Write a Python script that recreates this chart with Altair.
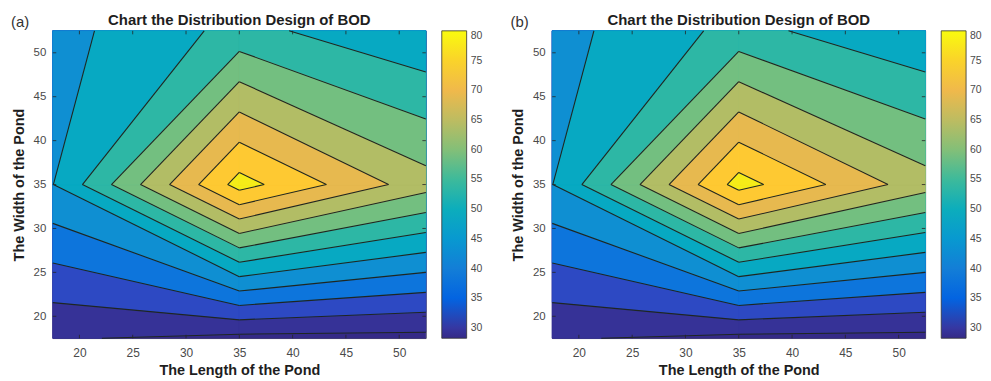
import math
import altair as alt
import pandas as pd

# ---------------- data ----------------
x_grid = [17.5, 35.0, 52.5]          # length of the pond (grid columns)
y_grid = [17.5, 35.0, 52.5]          # width of the pond (grid rows)
z_row_y17 = [25.5, 23.6, 23.5]       # BOD at width 17.5
z_row_y35 = [44.9, 77.0, 62.0]       # BOD at width 35
z_row_y52 = [43.1, 51.6, 45.6]       # BOD at width 52.5
contour_levels = [25, 30, 35, 40, 45, 50, 55, 60, 65, 70, 75]
axis_ticks = [20, 25, 30, 35, 40, 45, 50]
colorbar_ticks = [30, 35, 40, 45, 50, 55, 60, 65, 70, 75, 80]
colorbar_limits = [28.3, 80.0]
panel_labels = ["(a)", "(b)"]
chart_title = "Chart the Distribution Design of BOD"
x_title = "The Length of the Pond"
y_title = "The Width of the Pond"

# ---------------- styles ----------------
PARULA = [
    (0.2081, 0.1663, 0.5292), (0.2116, 0.1898, 0.5777), (0.2123, 0.2138, 0.6270), (0.2081, 0.2386, 0.6771),
    (0.1959, 0.2645, 0.7279), (0.1707, 0.2919, 0.7792), (0.1253, 0.3242, 0.8303), (0.0591, 0.3598, 0.8683),
    (0.0117, 0.3875, 0.8820), (0.0060, 0.4086, 0.8828), (0.0165, 0.4266, 0.8786), (0.0329, 0.4430, 0.8720),
    (0.0498, 0.4586, 0.8641), (0.0629, 0.4737, 0.8554), (0.0723, 0.4887, 0.8467), (0.0779, 0.5040, 0.8384),
    (0.0793, 0.5200, 0.8312), (0.0749, 0.5375, 0.8263), (0.0641, 0.5570, 0.8240), (0.0488, 0.5772, 0.8228),
    (0.0343, 0.5966, 0.8199), (0.0265, 0.6137, 0.8135), (0.0239, 0.6287, 0.8038), (0.0231, 0.6418, 0.7913),
    (0.0228, 0.6535, 0.7768), (0.0267, 0.6642, 0.7607), (0.0384, 0.6743, 0.7436), (0.0590, 0.6838, 0.7254),
    (0.0843, 0.6928, 0.7062), (0.1133, 0.7015, 0.6859), (0.1453, 0.7098, 0.6646), (0.1801, 0.7177, 0.6424),
    (0.2178, 0.7250, 0.6193), (0.2586, 0.7317, 0.5954), (0.3022, 0.7376, 0.5712), (0.3482, 0.7424, 0.5473),
    (0.3953, 0.7459, 0.5244), (0.4420, 0.7481, 0.5033), (0.4871, 0.7491, 0.4840), (0.5300, 0.7491, 0.4661),
    (0.5709, 0.7485, 0.4494), (0.6099, 0.7473, 0.4337), (0.6473, 0.7456, 0.4188), (0.6834, 0.7435, 0.4044),
    (0.7184, 0.7411, 0.3905), (0.7525, 0.7384, 0.3768), (0.7858, 0.7356, 0.3633), (0.8185, 0.7327, 0.3498),
    (0.8507, 0.7299, 0.3360), (0.8824, 0.7274, 0.3217), (0.9139, 0.7258, 0.3063), (0.9450, 0.7261, 0.2886),
    (0.9739, 0.7314, 0.2666), (0.9938, 0.7455, 0.2403), (0.9990, 0.7653, 0.2164), (0.9955, 0.7861, 0.1967),
    (0.9880, 0.8066, 0.1794), (0.9789, 0.8271, 0.1633), (0.9697, 0.8481, 0.1475), (0.9626, 0.8705, 0.1309),
    (0.9589, 0.8949, 0.1132), (0.9598, 0.9218, 0.0948), (0.9661, 0.9514, 0.0755), (0.9763, 0.9831, 0.0538),
]
# colormap position of each filled band: below first level, then one per level
band_positions = [0.0, 0.02, 0.075, 0.19, 0.29, 0.395, 0.49, 0.59, 0.69, 0.79, 0.875, 0.97]
FONT = "Liberation Sans"
W, H = 375, 309
TICK_LEN = 3.5


def parula(t):
    t = min(max(t, 0.0), 1.0)
    p = t * (len(PARULA) - 1)
    i = min(int(math.floor(p)), len(PARULA) - 2)
    f = p - i
    c = [PARULA[i][k] + f * (PARULA[i + 1][k] - PARULA[i][k]) for k in range(3)]
    return "#%02x%02x%02x" % tuple(int(round(v * 255)) for v in c)


band_colors = [parula(t) for t in band_positions]
parula_hex = [parula(i / 63) for i in range(64)]

Z = [z_row_y17, z_row_y35, z_row_y52]


def cell_corners(i, j):
    return [
        (x_grid[i], y_grid[j], Z[j][i]),
        (x_grid[i + 1], y_grid[j], Z[j][i + 1]),
        (x_grid[i + 1], y_grid[j + 1], Z[j + 1][i + 1]),
        (x_grid[i], y_grid[j + 1], Z[j + 1][i]),
    ]


def crossing(p, q, L):
    t = (L - p[2]) / (q[2] - p[2])
    return (p[0] + t * (q[0] - p[0]), p[1] + t * (q[1] - p[1]))


fill_rows = []
x0, x1 = x_grid[0], x_grid[-1]
y0, y1 = y_grid[0], y_grid[-1]
for k, (px, py) in enumerate([(x0, y0), (x1, y0), (x1, y1), (x0, y1)]):
    fill_rows.append({"level": 0, "poly": "base", "vi": k, "x": px, "y": py, "color": band_colors[0]})

line_rows = []
for li, L in enumerate(contour_levels, start=1):
    for j in range(len(y_grid) - 1):
        for i in range(len(x_grid) - 1):
            cs = cell_corners(i, j)
            poly, cross = [], []
            for k in range(4):
                p, q = cs[k], cs[(k + 1) % 4]
                if p[2] >= L:
                    poly.append((p[0], p[1]))
                if (p[2] >= L) != (q[2] >= L):
                    c = crossing(p, q, L)
                    poly.append(c)
                    cross.append(c)
            if len(poly) >= 3:
                pid = "%d-%d-%d" % (li, i, j)
                for v, (px, py) in enumerate(poly):
                    fill_rows.append({"level": li, "poly": pid, "vi": v, "x": px, "y": py,
                                      "color": band_colors[li]})
            for s in range(0, len(cross) - 1, 2):
                sid = "%d-%d-%d-%d" % (li, i, j, s)
                for v, (px, py) in enumerate(cross[s:s + 2]):
                    line_rows.append({"seg": sid, "vi": v, "x": px, "y": py})

fills_df = pd.DataFrame(fill_rows)
lines_df = pd.DataFrame(line_rows)
grid_df = pd.DataFrame([
    {"x": x_grid[i], "y": y_grid[j], "z": Z[j][i]}
    for j in range(len(y_grid)) for i in range(len(x_grid))
])
ticks_df = pd.DataFrame({"v": axis_ticks})

XS = alt.Scale(domain=[x0, x1], nice=False, zero=False)
YS = alt.Scale(domain=[y0, y1], nice=False, zero=False)


def xaxis():
    return alt.Axis(values=axis_ticks, title=x_title, grid=False, ticks=False, domain=False,
                    labelFontSize=12, labelColor="#4a4a4a", labelPadding=9, labelFont=FONT,
                    titleFontSize=14.5, titleFontWeight="bold", titleColor="#1e1e1e",
                    titlePadding=5, titleFont=FONT)


def yaxis():
    return alt.Axis(values=axis_ticks, title=y_title, grid=False, ticks=False, domain=False,
                    labelFontSize=11.5, labelColor="#4a4a4a", labelPadding=7, labelFont=FONT,
                    titleFontSize=14.5, titleFontWeight="bold", titleColor="#1e1e1e",
                    titlePadding=7, titleFont=FONT)


def xenc(field="x:Q"):
    return alt.X(field, scale=XS, axis=xaxis())


def yenc(field="y:Q"):
    return alt.Y(field, scale=YS, axis=yaxis())


def panel(label):
    layers = []
    for li in range(len(contour_levels) + 1):
        layers.append(
            alt.Chart(fills_df)
            .transform_filter(alt.datum.level == li)
            .mark_line(interpolate="linear-closed", strokeWidth=0.7, strokeJoin="round")
            .encode(x=xenc(), y=yenc(), detail="poly:N", order="vi:Q",
                    fill=alt.Fill("color:N", scale=None), stroke=alt.Stroke("color:N", scale=None))
        )
    lines = (
        alt.Chart(lines_df)
        .mark_line(color="#1f2622", strokeWidth=1.1)
        .encode(x=xenc(), y=yenc(), detail="seg:N", order="vi:Q")
    )
    tick_style = dict(color="#262626", strokeWidth=0.8)
    ticks_bottom = alt.Chart(ticks_df).mark_rule(**tick_style).encode(
        x=xenc("v:Q"), y=alt.value(H), y2=alt.value(H - TICK_LEN))
    ticks_top = alt.Chart(ticks_df).mark_rule(**tick_style).encode(
        x=xenc("v:Q"), y=alt.value(0), y2=alt.value(TICK_LEN))
    ticks_left = alt.Chart(ticks_df).mark_rule(**tick_style).encode(
        y=yenc("v:Q"), x=alt.value(0), x2=alt.value(TICK_LEN))
    ticks_right = alt.Chart(ticks_df).mark_rule(**tick_style).encode(
        y=yenc("v:Q"), x=alt.value(W), x2=alt.value(W - TICK_LEN))
    legend_layer = (
        alt.Chart(grid_df)
        .mark_point(strokeOpacity=0, fillOpacity=0)
        .encode(
            x=xenc(), y=yenc(),
            color=alt.Color(
                "z:Q",
                scale=alt.Scale(domain=colorbar_limits, range=parula_hex, interpolate="rgb"),
                legend=alt.Legend(title=None, values=colorbar_ticks, orient="right", direction="vertical",
                                  gradientLength=H, gradientThickness=25, offset=13, padding=0,
                                  labelFontSize=10.5, labelColor="#4a4a4a", labelFont=FONT, labelOffset=4,
                                  labelOverlap=False, gradientStrokeColor="#333333",
                                  gradientStrokeWidth=0.8),
            ),
        )
    )
    text_df = pd.DataFrame({"label": [label], "title": [chart_title]})
    label_layer = (
        alt.Chart(text_df)
        .mark_text(align="left", baseline="middle", fontSize=15, font=FONT, color="#333333")
        .encode(x=alt.value(-42), y=alt.value(-9), text="label:N")
    )
    title_layer = (
        alt.Chart(text_df)
        .mark_text(align="center", baseline="alphabetic", fontSize=15, fontWeight="bold", font=FONT,
                   color="#1e1e1e")
        .encode(x=alt.value(W / 2), y=alt.value(-6), text="title:N")
    )
    return alt.layer(*layers, lines, ticks_bottom, ticks_top, ticks_left, ticks_right,
                     legend_layer, label_layer, title_layer).properties(width=W, height=H)


chart = (
    alt.hconcat(panel(panel_labels[0]), panel(panel_labels[1]), spacing=127, bounds="flush")
    .resolve_scale(color="independent")
    .resolve_legend(color="independent")
    .configure_view(stroke="#262626", strokeWidth=0.8)
    .properties(padding={"left": 2, "top": 3, "right": 0, "bottom": 0}, background="white")
)

chart.save("out.html", embed_options={"renderer": "svg", "actions": False})
